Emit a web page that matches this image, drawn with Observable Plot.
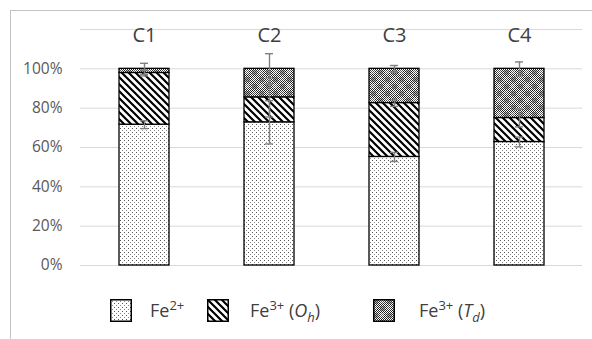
<!DOCTYPE html>
<html>
<head>
<meta charset="utf-8">
<script src="https://cdn.jsdelivr.net/npm/d3@7"></script>
<script src="https://cdn.jsdelivr.net/npm/@observablehq/plot@0.6"></script>
<style>
  html, body { margin: 0; padding: 0; background: #fff; }
  #wrap { position: relative; width: 592px; height: 339px; overflow: hidden; font-family: "Open Sans", sans-serif; color: #404040; }
  #chart { position: absolute; left: 0; top: 0; }
  #frame { position: absolute; left: 0; top: 0; z-index: 5; pointer-events: none; }
  .sw { position: absolute; top: 299px; display: block; z-index: 6; }
  .lt { position: absolute; top: 297px; font-size: 18px; line-height: 26px; white-space: nowrap; color: #404040; }
  .lt sup { font-size: 13px; vertical-align: 0; position: relative; top: -7px; }
  .lt sub { font-size: 13px; vertical-align: 0; position: relative; top: 5px; }
</style>
</head>
<body>
<svg width="0" height="0" style="position:absolute">
  <defs>
    <pattern id="pDots" patternUnits="userSpaceOnUse" width="4" height="4">
      <rect width="4" height="4" fill="#fff"/>
      <rect x="0" y="0" width="1" height="1" fill="#555"/>
      <rect x="2" y="2" width="1" height="1" fill="#888"/>
    </pattern>
    <pattern id="pDiag" patternUnits="userSpaceOnUse" width="7" height="7">
      <rect width="7" height="7" fill="#fff"/>
      <path d="M-2,-2 L9,9 M-2,5 L2,9 M5,-2 L9,2" stroke="#000" stroke-width="2.2"/>
    </pattern>
    <pattern id="pCheck" patternUnits="userSpaceOnUse" width="2" height="2">
      <rect width="2" height="2" fill="#fff"/>
      <rect x="0" y="0" width="1" height="1" fill="#222"/>
      <rect x="1" y="1" width="1" height="1" fill="#222"/>
    </pattern>
    <pattern id="pTd" patternUnits="userSpaceOnUse" width="14" height="14">
      <rect width="14" height="14" fill="url(#pCheck)"/>
      <rect x="0" y="0" width="5" height="5" fill="#444" opacity="0.4"/>
      <rect x="7" y="7" width="5" height="5" fill="#444" opacity="0.4"/>
      <rect x="7" y="0" width="4" height="4" fill="#fff" opacity="0.25"/>
      <rect x="0" y="7" width="4" height="4" fill="#fff" opacity="0.15"/>
    </pattern>
  </defs>
</svg>
<div id="wrap">
  <div id="chart"></div>
  <svg id="frame" width="592" height="339">
    <path d="M10.5,339 V10.5 H592" fill="none" stroke="#c4c4c4" stroke-width="1" shape-rendering="crispEdges"/>
  </svg>
  <svg class="sw" style="left:110px" width="22" height="23"><rect x="0.75" y="0.75" width="20.5" height="21.5" fill="url(#pDots)" stroke="#000" stroke-width="1.5"/></svg>
  <div class="lt" style="left:150px">Fe<sup>2+</sup></div>
  <svg class="sw" style="left:207px" width="22" height="23"><rect x="0.75" y="0.75" width="20.5" height="21.5" fill="url(#pDiag)" stroke="#000" stroke-width="1.5"/></svg>
  <div class="lt" style="left:250px">Fe<sup>3+</sup> (<i>O</i><sub><i>h</i></sub>)</div>
  <svg class="sw" style="left:373px" width="22" height="23"><rect x="0.75" y="0.75" width="20.5" height="21.5" fill="url(#pTd)" stroke="#000" stroke-width="1.5"/></svg>
  <div class="lt" style="left:419px">Fe<sup>3+</sup> (<i>T</i><sub><i>d</i></sub>)</div>
</div>
<script>
// ---- data ----
const categories = ["C1", "C2", "C3", "C4"];
const fe2 = [71.6, 72.8, 55.2, 62.8];      // Fe2+ (%)
const fe3Oh = [26.3, 12.7, 27.4, 12.2];    // Fe3+ (Oh) (%)
const fe3Td = [2.1, 14.5, 17.4, 25.0];     // Fe3+ (Td) (%)
const fe2Err = [2.0, 11.0, 2.3, 2.5];
const fe3OhErr = [1.5, 10.0, 1.7, 4.5];
const fe3TdErr = [2.8, 7.7, 1.7, 3.5];
const yTicks = [0, 20, 40, 60, 80, 100];
const topLine = 120;

const series = [
  {name: "Fe2+", vals: fe2, err: fe2Err, fill: "url(#pDots)"},
  {name: "Fe3+ (Oh)", vals: fe3Oh, err: fe3OhErr, fill: "url(#pDiag)"},
  {name: "Fe3+ (Td)", vals: fe3Td, err: fe3TdErr, fill: "url(#pTd)"}
];
const segs = [];
const errs = [];
categories.forEach((c, i) => {
  let acc = 0;
  series.forEach(s => {
    const y1 = acc, y2 = acc + s.vals[i];
    segs.push({cat: c, series: s.name, y1, y2, fill: s.fill});
    errs.push({cat: c, lo: y2 - s.err[i], hi: y2 + s.err[i]});
    acc = y2;
  });
});
const caps = errs.flatMap(e => [{cat: e.cat, v: e.lo}, {cat: e.cat, v: e.hi}]);

const chart = Plot.plot({
  width: 592,
  height: 285,
  marginTop: 29,
  marginBottom: 20,
  marginLeft: 80,
  marginRight: 10,
  style: {background: "transparent", fontFamily: "Open Sans, sans-serif", color: "#595959"},
  x: {domain: categories, paddingInner: 0.6, paddingOuter: 0.3, axis: null},
  y: {domain: [0, topLine], axis: null},
  marks: [
    Plot.ruleY([...yTicks, topLine], {stroke: "#d9d9d9", strokeWidth: 1}),
    Plot.axisY(yTicks, {tickSize: 0, tickPadding: 18, fontSize: 15.5, fill: "#595959", tickFormat: d => d + "%"}),
    Plot.barY(categories, {x: d => d, y1: topLine - 5, y2: topLine + 5, fill: "white", insetLeft: 36, insetRight: 36}),
    Plot.text(categories, {x: d => d, y: topLine, dy: 6, text: d => d, fontSize: 20, fill: "#404040"}),
    ...series.map(s => Plot.barY(segs.filter(d => d.series === s.name), {x: "cat", y1: "y1", y2: "y2", fill: s.fill, stroke: "#000", strokeWidth: 1.3})),
    Plot.ruleX(errs, {x: "cat", y1: "lo", y2: "hi", stroke: "#808080", strokeWidth: 1.4}),
    Plot.tickY(caps, {x: "cat", y: "v", stroke: "#808080", strokeWidth: 1.4, insetLeft: 21, insetRight: 21})
  ]
});
document.getElementById("chart").appendChild(chart);
</script>
</body>
</html>
